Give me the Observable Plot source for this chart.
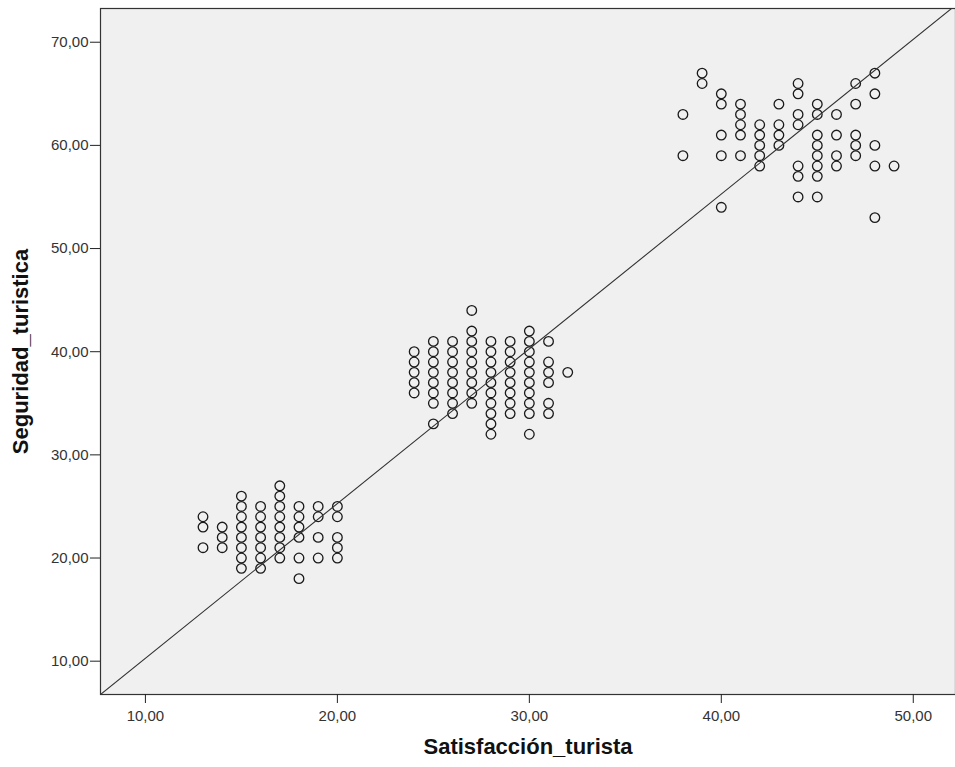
<!DOCTYPE html>
<html>
<head>
<meta charset="utf-8">
<script src="https://cdn.jsdelivr.net/npm/d3@7"></script>
<script src="https://cdn.jsdelivr.net/npm/@observablehq/plot@0.6"></script>
<style>
  html, body { margin: 0; padding: 0; background: #ffffff; }
  #chart svg [aria-label="x-axis tick label"],
  #chart svg [aria-label="y-axis tick label"],
  #chart svg [aria-label="x-axis tick label"] text,
  #chart svg [aria-label="y-axis tick label"] text { font-size: 15px !important; }
</style>
</head>
<body>
<div id="chart"></div>
<script>
// Low cluster (Satisfacción_turista, Seguridad_turistica)
const lowX = [13,13,13, 14,14,14, 15,15,15,15,15,15,15,15, 16,16,16,16,16,16,16, 17,17,17,17,17,17,17,17, 18,18,18,18,18,18, 19,19,19,19, 20,20,20,20,20];
const lowY = [24,23,21, 23,22,21, 26,25,24,23,22,21,20,19, 25,24,23,22,21,20,19, 27,26,25,24,23,22,21,20, 25,24,23,22,20,18, 25,24,22,20, 25,24,22,21,20];

// Middle cluster
const midX = [24,24,24,24,24, 25,25,25,25,25,25,25,25, 26,26,26,26,26,26,26,26, 27,27,27,27,27,27,27,27,27, 28,28,28,28,28,28,28,28,28,28, 29,29,29,29,29,29,29,29, 30,30,30,30,30,30,30,30,30,30, 31,31,31,31,31,31, 32];
const midY = [40,39,38,37,36, 41,40,39,38,37,36,35,33, 41,40,39,38,37,36,35,34, 44,42,41,40,39,38,37,36,35, 41,40,39,38,37,36,35,34,33,32, 41,40,39,38,37,36,35,34, 42,41,40,39,38,37,36,35,34,32, 41,39,38,37,35,34, 38];

// High cluster
const highX = [38,38, 39,39, 40,40,40,40,40, 41,41,41,41,41, 42,42,42,42,42, 43,43,43,43, 44,44,44,44,44,44,44, 45,45,45,45,45,45,45,45, 46,46,46,46, 47,47,47,47,47, 48,48,48,48,48, 49];
const highY = [63,59, 67,66, 65,64,61,59,54, 64,63,62,61,59, 62,61,60,59,58, 64,62,61,60, 66,65,63,62,58,57,55, 64,63,61,60,59,58,57,55, 63,61,59,58, 66,64,61,60,59, 67,65,60,58,53, 58];

// Fitted line shown in the chart
const fitIntercept = -4.72;
const fitSlope = 1.5;

// Axis ticks and labels
const xTicks = [10, 20, 30, 40, 50];
const yTicks = [10, 20, 30, 40, 50, 60, 70];
const xLabel = "Satisfacción_turista";
const yLabel = "Seguridad_turistica";

const xDomain = [7.66, 52.2];
const yDomain = [6.77, 73.27];

const points = [];
[[lowX, lowY], [midX, midY], [highX, highY]].forEach(([xs, ys]) => {
  xs.forEach((x, i) => points.push({x, y: ys[i]}));
});
const fitLine = xDomain.map(x => ({x, y: fitIntercept + fitSlope * x}));

const fmt = d => d.toFixed(2).replace(".", ",");

const chart = Plot.plot({
  width: 955,
  height: 767,
  marginLeft: 100,
  marginRight: 0,
  marginTop: 8,
  marginBottom: 73,
  style: {fontFamily: "'Liberation Sans', Arial, sans-serif", fontSize: "15px", background: "#ffffff", color: "#222"},
  x: {domain: xDomain},
  y: {domain: yDomain},
  marks: [
    Plot.frame({fill: "#f0f0f0", stroke: null}),
    Plot.dot(points, {x: "x", y: "y", r: 4.8, stroke: "#1a1a1a", strokeWidth: 1.3, fill: "none"}),
    Plot.line(fitLine, {x: "x", y: "y", stroke: "#333", strokeWidth: 1.1, clip: true}),
    Plot.frame({stroke: "#333", strokeWidth: 1.2}),
    Plot.axisX({ticks: xTicks, tickFormat: fmt, tickSize: 9, tickPadding: 7, fontSize: 15, label: null, stroke: "#222", fill: "#333"}),
    Plot.axisY({ticks: yTicks, tickFormat: fmt, tickSize: 10, tickPadding: 2, fontSize: 15, label: null, stroke: "#222", fill: "#333"}),
    Plot.text([xLabel], {frameAnchor: "bottom", dy: 59, text: d => d, fontWeight: "bold", fontSize: 22, fill: "#111"}),
    Plot.text([yLabel], {frameAnchor: "left", dx: -80, rotate: -90, textAnchor: "middle", text: d => d, fontWeight: "bold", fontSize: 22, fill: "#111"})
  ]
});
document.getElementById("chart").appendChild(chart);
</script>
</body>
</html>
